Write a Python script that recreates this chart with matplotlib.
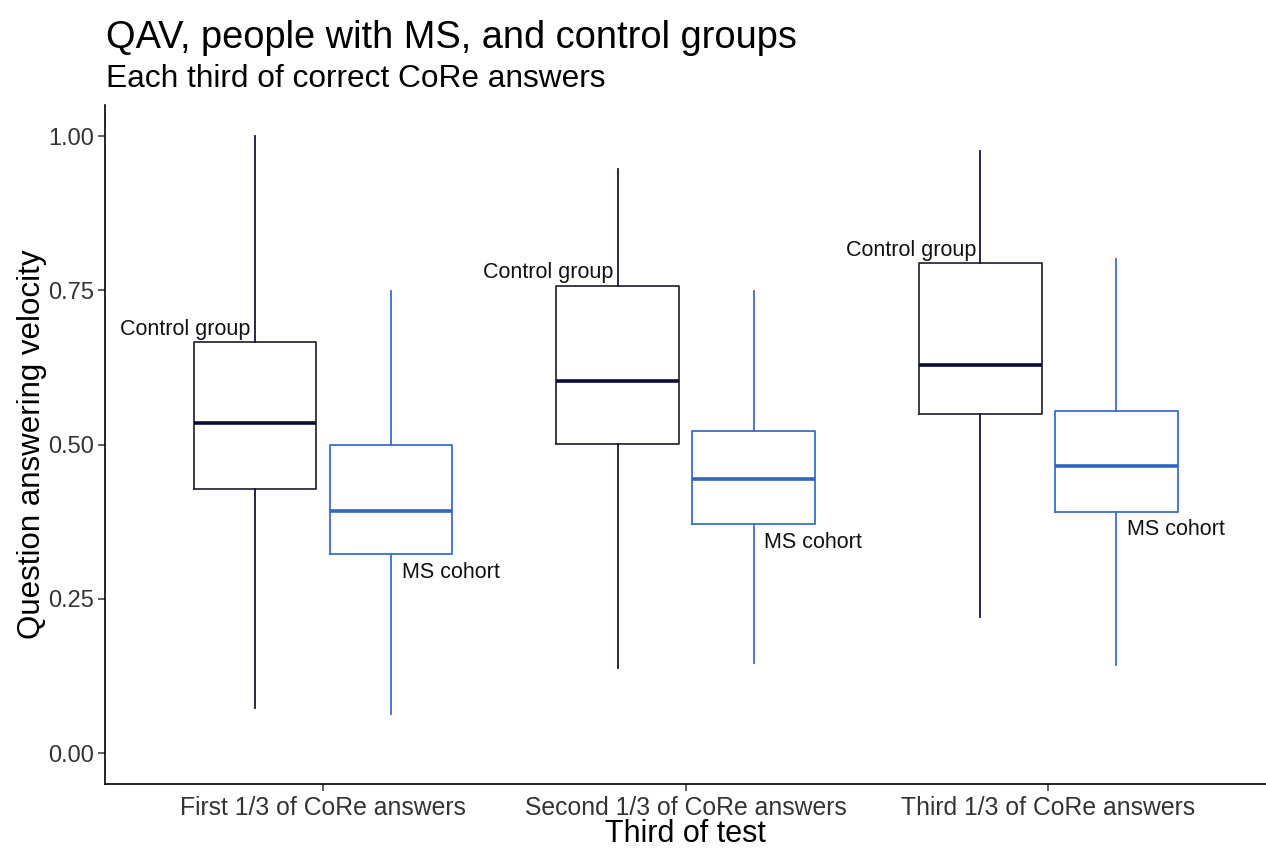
import numpy as np
import matplotlib
matplotlib.use("Agg")
import matplotlib.pyplot as plt

plt.rcParams['font.family'] = ['Liberation Sans', 'DejaVu Sans']

categories = ["First 1/3 of CoRe answers", "Second 1/3 of CoRe answers", "Third 1/3 of CoRe answers"]
groups = ["Control group", "MS cohort"]

# five-number summaries: whislo, q1, med, q3, whishi
control_low = [0.073, 0.138, 0.220]
control_q1 = [0.428, 0.501, 0.549]
control_med = [0.535, 0.603, 0.629]
control_q3 = [0.666, 0.757, 0.794]
control_high = [1.000, 0.947, 0.976]

ms_low = [0.063, 0.146, 0.143]
ms_q1 = [0.322, 0.371, 0.391]
ms_med = [0.392, 0.444, 0.465]
ms_q3 = [0.499, 0.522, 0.554]
ms_high = [0.749, 0.749, 0.800]

ctrl_col = '#16163a'
ctrl_box = '#2e2e3a'
ms_col = '#3b6fc6'

fig = plt.figure(figsize=(12.66, 8.48), dpi=100)
ax = fig.add_axes([0.083, 0.0755, 0.917, 0.8005])

x = np.arange(1, len(categories) + 1)
dodge = 0.1875
width = 0.3375


def stats(lo, q1, med, q3, hi):
    return [dict(whislo=a, q1=b, med=c, q3=d, whishi=e, fliers=[])
            for a, b, c, d, e in zip(lo, q1, med, q3, hi)]


ctrl_stats = stats(control_low, control_q1, control_med, control_q3, control_high)
ms_stats = stats(ms_low, ms_q1, ms_med, ms_q3, ms_high)

ax.bxp(ctrl_stats, positions=x - dodge, widths=width, showcaps=False, showfliers=False,
       boxprops=dict(color=ctrl_box, linewidth=1.3),
       whiskerprops=dict(color=ctrl_col, linewidth=1.3),
       medianprops=dict(color='#0c0c38', linewidth=2.6, solid_capstyle='butt'))
ax.bxp(ms_stats, positions=x + dodge, widths=width, showcaps=False, showfliers=False,
       boxprops=dict(color=ms_col, linewidth=1.3),
       whiskerprops=dict(color=ms_col, linewidth=1.3),
       medianprops=dict(color='#2f66c0', linewidth=2.6, solid_capstyle='butt'))

# group labels next to each box
for i in range(len(categories)):
    ax.text(x[i] - dodge - 0.012, control_q3[i] + 0.004, groups[0],
            ha='right', va='bottom', fontsize=15.5, color='#111111')
    ax.text(x[i] + dodge + 0.03, ms_q1[i] - 0.012, groups[1],
            ha='left', va='top', fontsize=15.5, color='#111111')

ax.set_xlim(0.4, 3.6)
ax.set_ylim(-0.05, 1.05)
ax.set_xticks(x)
ax.set_xticklabels(categories)
ax.set_yticks([0, 0.25, 0.5, 0.75, 1.0])
ax.set_yticklabels(["0.00", "0.25", "0.50", "0.75", "1.00"])
ax.tick_params(labelcolor='#333333', color='#333333', length=5, width=1.1)
ax.tick_params(axis='x', pad=4, labelsize=17.8)
ax.tick_params(axis='y', pad=3, labelsize=17)

for s in ['top', 'right']:
    ax.spines[s].set_visible(False)
for s in ['left', 'bottom']:
    ax.spines[s].set_linewidth(1.2)
    ax.spines[s].set_color('black')

ax.set_xlabel("Third of test", fontsize=22)
ax.set_ylabel("Question answering velocity", fontsize=22.5)
ax.xaxis.labelpad = -1
ax.yaxis.labelpad = 1

fig.text(0.084, 0.943, "QAV, people with MS, and control groups", fontsize=27.4, ha='left', va='baseline')
fig.text(0.084, 0.897, "Each third of correct CoRe answers", fontsize=22.8, ha='left', va='baseline')

fig.savefig("out.png", dpi=100)
